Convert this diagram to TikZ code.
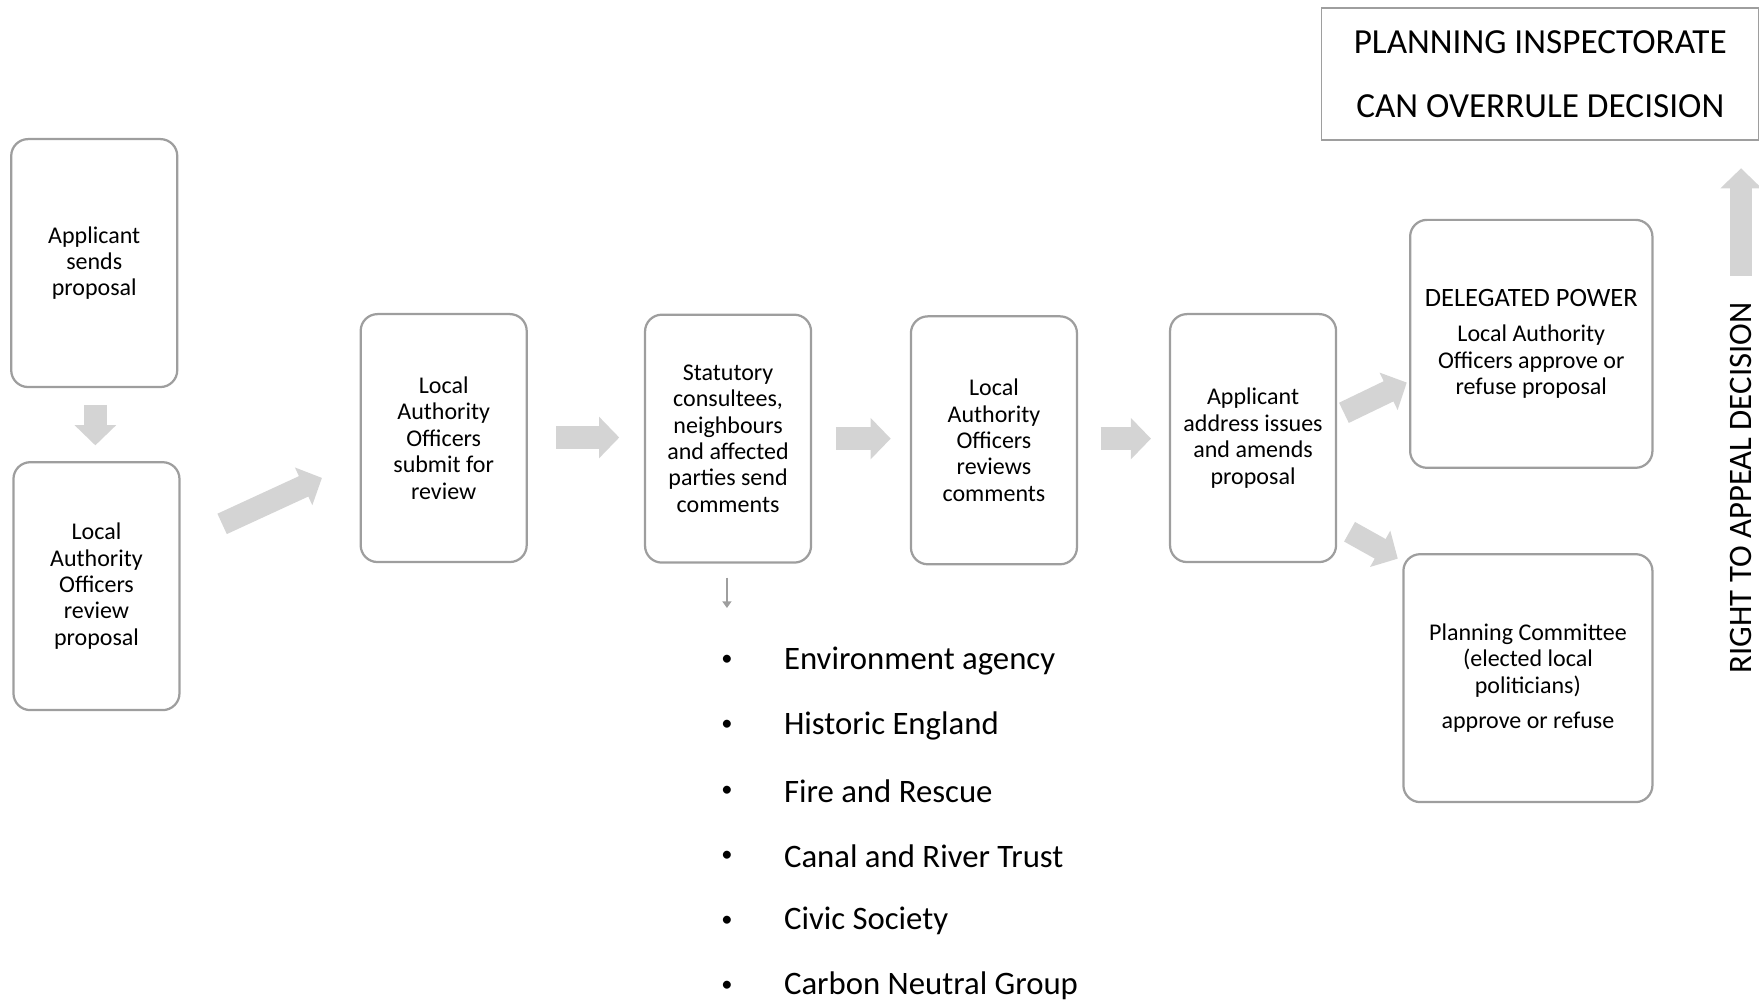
\documentclass[tikz,border=0pt]{standalone}
\usepackage{fontspec}
\setmainfont{Carlito}
\usetikzlibrary{arrows.meta}

\definecolor{boxgray}{RGB}{158,158,158}
\definecolor{arrowgray}{RGB}{212,212,212}

\tikzset{
  stage/.style={draw=boxgray, line width=1pt, rounded corners=7.5pt, align=center,
    minimum width=74pt, minimum height=110.5pt, inner sep=2pt,
    font=\fontsize{10.7}{11.75}\selectfont},
  outcome/.style={stage, minimum width=108pt},
  bigtext/.style={font=\fontsize{14.6}{17}\selectfont, inner sep=0.75pt},
  dotnode/.style={font=\fontsize{10}{12}\selectfont, inner sep=0.75pt},
  blockarrow/.style={draw=arrowgray, line width=10pt,
    -{Triangle[length=9pt,width=18pt,fill=arrowgray]}},
  thinarrow/.style={draw=boxgray, line width=1pt,
    -{Triangle[length=3pt,width=4pt,fill=boxgray]}},
}

\begin{document}
\begin{tikzpicture}[x=0.5pt,y=0.5pt,yscale=-1]
\useasboundingbox (0,0) rectangle (1568,894);

%Rounded Rect
\node[stage] (apply) at (84,234.5) {Applicant\\sends\\proposal};
%Rounded Rect
\node[stage] (review) at (86,522.5) {Local\\Authority\\Officers\\review\\proposal};
%Rounded Rect
\node[stage] (submit) at (395.5,390.5) {Local\\Authority\\Officers\\submit for\\review};
%Rounded Rect
\node[stage] (consult) at (649,391) {Statutory\\consultees,\\neighbours\\and affected\\parties send\\comments};
%Rounded Rect
\node[stage] (comments) at (886,392.5) {Local\\Authority\\Officers\\reviews\\comments};
%Rounded Rect
\node[stage] (amend) at (1117,390.5) {Applicant\\address issues\\and amends\\proposal};
%Rounded Rect
\node[outcome] (delegated) at (1365,306.5) {{\fontsize{11.8}{12}\selectfont DELEGATED POWER}\\[4pt]Local Authority\\Officers approve or\\refuse proposal};
%Rounded Rect
\node[outcome, minimum width=111pt] (committee) at (1362,604.5) {Planning Committee\\(elected local\\politicians)\\[4pt]approve or refuse};

%Rect
\node[draw=boxgray, line width=0.8pt, minimum width=195pt, minimum height=59pt, align=center,
  font=\fontsize{15.7}{28.5}\selectfont] (inspect) at (1373,66) {PLANNING INSPECTORATE\\CAN OVERRULE DECISION};

% Text Node
\node[bigtext, rotate=90] (appeal) at (1552,435) {RIGHT TO APPEAL DECISION};

%Block Arrows
\coordinate (a1) at (85,361);   \coordinate (a2) at (85,397);
\coordinate (b1) at (198,467);  \coordinate (b2) at (287,426);
\coordinate (c1) at (496,390);  \coordinate (c2) at (552,390);
\coordinate (d1) at (745,391);  \coordinate (d2) at (794,391);
\coordinate (e1) at (981,391);  \coordinate (e2) at (1026,391);
\coordinate (f1) at (1198,368); \coordinate (f2) at (1254,341);
\coordinate (g1) at (1203,474); \coordinate (g2) at (1246,498);
\coordinate (h1) at (1552,246); \coordinate (h2) at (1552,150);
\draw[blockarrow] (a1) -- (a2);
\draw[blockarrow] (b1) -- (b2);
\draw[blockarrow] (c1) -- (c2);
\draw[blockarrow] (d1) -- (d2);
\draw[blockarrow] (e1) -- (e2);
\draw[blockarrow] (f1) -- (f2);
\draw[blockarrow] (g1) -- (g2);
\draw[blockarrow] (h1) -- (h2);

%Straight Lines
\coordinate (s1) at (648,515);  \coordinate (s2) at (648,542);
\draw[thinarrow] (s1) -- (s2);

% Text Node
\node[dotnode] (dot1) at (648,589) {\textbullet};
\node[bigtext, anchor=west] (env) at (697,589) {Environment agency};
% Text Node
\node[dotnode] (dot2) at (648,647) {\textbullet};
\node[bigtext, anchor=west] (hist) at (697,647) {Historic England};
% Text Node
\node[dotnode] (dot3) at (648,705) {\textbullet};
\node[bigtext, anchor=west] (fire) at (697,705) {Fire and Rescue};
% Text Node
\node[dotnode] (dot4) at (648,763) {\textbullet};
\node[bigtext, anchor=west] (canal) at (697,763) {Canal and River Trust};
% Text Node
\node[dotnode] (dot5) at (648,821) {\textbullet};
\node[bigtext, anchor=west] (civic) at (697,821) {Civic Society};
% Text Node
\node[dotnode] (dot6) at (648,879) {\textbullet};
\node[bigtext, anchor=west] (carbon) at (697,879) {Carbon Neutral Group};

\end{tikzpicture}
\end{document}
